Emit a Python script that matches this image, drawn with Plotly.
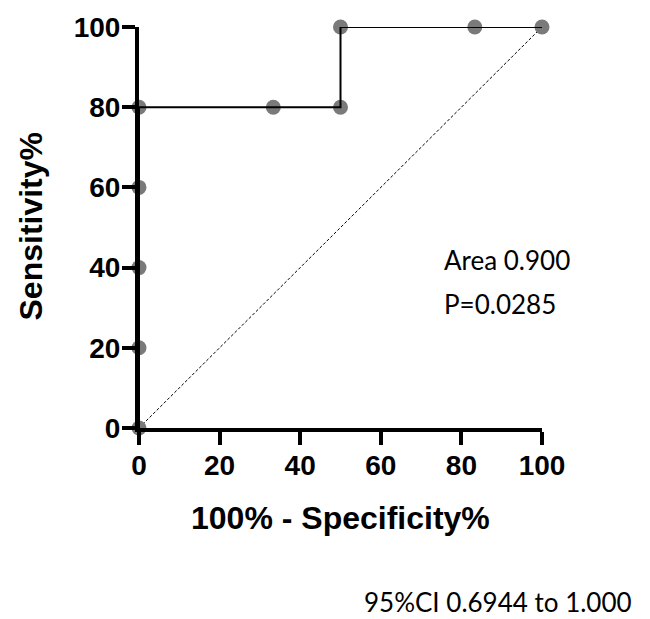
import plotly.graph_objects as go

fpr = [0, 0, 0, 0, 0, 33.33, 50, 50, 83.33, 100]
tpr = [0, 20, 40, 60, 80, 80, 80, 100, 100, 100]
diag_x = [0, 100]
diag_y = [0, 100]
tick_vals = [0, 20, 40, 60, 80, 100]
tick_text = ["0", "20", "40", "60", "80", "100"]

fig = go.Figure()
fig.add_trace(go.Scatter(x=diag_x, y=diag_y, mode="lines",
                         line=dict(color="black", width=1, dash="3px,2px"),
                         hoverinfo="skip", showlegend=False))
fig.add_trace(go.Scatter(x=fpr, y=tpr, mode="markers",
                         marker=dict(color="#7a7a7a", size=15),
                         cliponaxis=False, showlegend=False))
fig.add_trace(go.Scatter(x=fpr, y=tpr, mode="lines",
                         line=dict(color="black", width=2),
                         cliponaxis=False, showlegend=False))

axis_common = dict(
    range=[0, 100], tickvals=tick_vals, ticktext=tick_text,
    showline=True, linewidth=4, linecolor="black",
    ticks="outside", ticklen=13, tickwidth=4, tickcolor="black",
    showgrid=False, zeroline=False, ticklabelstandoff=-4,
    tickfont=dict(family="Liberation Sans", size=28, color="black", weight="bold"),
)
fig.update_layout(
    width=650, height=619,
    margin=dict(l=139, r=108, t=25, b=191),
    plot_bgcolor="white", paper_bgcolor="white",
    xaxis=axis_common,
    yaxis=axis_common,
    annotations=[
        dict(text="100% - Specificity%", xref="paper", yref="paper", x=0.5, y=-0.225,
             showarrow=False, xanchor="center", yanchor="middle",
             font=dict(family="Liberation Sans", size=32, color="black", weight="bold")),
        dict(text="Sensitivity%", xref="paper", yref="paper", x=-0.268, y=0.505, textangle=-90,
             showarrow=False, xanchor="center", yanchor="middle",
             font=dict(family="Liberation Sans", size=32, color="black", weight="bold")),
        dict(text="Area 0.900", xref="x", yref="y", x=75.2, y=42.0, showarrow=False,
             xanchor="left", yanchor="middle",
             font=dict(family="Lato", size=26, color="black")),
        dict(text="P=0.0285", xref="x", yref="y", x=75.2, y=30.8, showarrow=False,
             xanchor="left", yanchor="middle",
             font=dict(family="Lato", size=26, color="black")),
        dict(text="95%CI 0.6944 to 1.000", xref="paper", yref="paper", x=0.554, y=-0.435,
             showarrow=False, xanchor="left", yanchor="middle",
             font=dict(family="Lato", size=26, color="black")),
    ],
)
fig.write_html("out.html", config={"displayModeBar": False},
               post_script="document.body.style.margin='0';")
